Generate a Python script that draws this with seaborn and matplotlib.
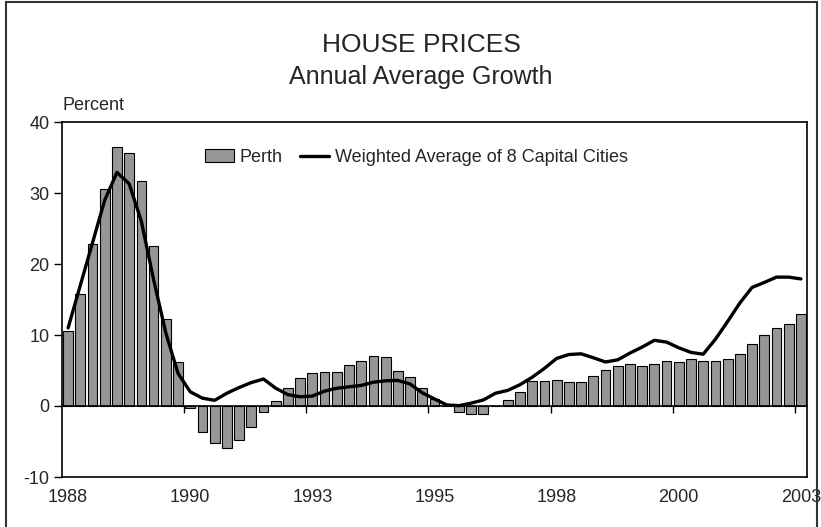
import numpy as np
import pandas as pd
import matplotlib
matplotlib.use('Agg')
import matplotlib.pyplot as plt
from matplotlib.patches import Rectangle
import seaborn as sns

# Quarterly data, 1988Q1 to 2003Q1
quarters = [f'{y}Q{q}' for y in range(1988, 2004) for q in range(1, 5)][:61]

perth = [10.5, 15.8, 22.8, 30.6, 36.5, 35.6, 31.7, 22.5, 12.3, 6.2,
         -0.3, -3.7, -5.2, -5.9, -4.8, -3.0, -0.9, 0.7, 2.6, 3.9,
         4.6, 4.8, 4.8, 5.8, 6.3, 7.1, 6.9, 5.0, 4.1, 2.5,
         1.0, 0.0, -0.8, -1.1, -1.1, 0.0, 0.9, 2.0, 3.5, 3.5,
         3.6, 3.35, 3.35, 4.2, 5.05, 5.6, 5.9, 5.6, 5.9, 6.3,
         6.2, 6.65, 6.3, 6.3, 6.65, 7.35, 8.7, 10.0, 11.05, 11.6,
         13.0]

capitals = [11.0, 17.0, 23.0, 29.0, 32.9, 31.3, 26.0, 17.8, 10.3, 4.6,
            2.0, 1.1, 0.8, 1.8, 2.6, 3.3, 3.8, 2.5, 1.6, 1.3,
            1.4, 2.1, 2.5, 2.7, 2.9, 3.35, 3.55, 3.6, 3.1, 1.85,
            1.0, 0.15, 0.05, 0.4, 0.85, 1.8, 2.2, 3.0, 4.05, 5.3,
            6.7, 7.25, 7.35, 6.8, 6.2, 6.5, 7.45, 8.3, 9.25, 9.0,
            8.2, 7.55, 7.3, 9.4, 11.9, 14.5, 16.7, 17.4, 18.15, 18.15,
            17.9]

tick_labels = ['1988', '1990', '1993', '1995', '1998', '2000', '2003']

df = pd.DataFrame({'quarter': quarters, 'perth': perth, 'capitals': capitals})
df['pos'] = np.arange(len(df))

sns.set_style('white')
plt.rcParams['font.family'] = ['Liberation Sans', 'DejaVu Sans']
plt.rcParams['axes.unicode_minus'] = False

fig = plt.figure(figsize=(8.21, 5.27), dpi=100)
ax = fig.add_axes([62 / 821, 50 / 527, 745 / 821, 355 / 527])

sns.barplot(data=df, x='quarter', y='perth', color='#969696', saturation=1,
            edgecolor='black', linewidth=0.8, width=0.8, label='Perth', ax=ax)
sns.lineplot(data=df, x='pos', y='capitals', color='black', linewidth=2.4,
             label='Weighted Average of 8 Capital Cities', ax=ax)

ax.set_xlim(-0.5, len(df) - 0.5)
ax.set_ylim(-10, 40)
ax.set_yticks(np.arange(-10, 41, 10))
ax.set_xlabel('')
ax.set_ylabel('')

for s in ax.spines.values():
    s.set_color('black')
    s.set_linewidth(1.2)

# category axis crosses at zero, tick marks between every 10 quarters
ax.spines['bottom'].set_position(('data', 0))
ax.set_xticks(np.arange(9.5, len(df), 10))
ax.tick_params(axis='x', bottom=True, length=5, width=1, direction='out',
               labelbottom=False, color='black')
ax.tick_params(axis='y', left=True, length=6, width=1, direction='out',
               labelsize=13, pad=3, color='black')

# labels sit at the bottom of the plot area
sec = ax.secondary_xaxis('bottom')
sec.set_xticks(np.arange(0, len(df), 10), tick_labels)
sec.tick_params(length=0, labelsize=13, pad=9)
sec.spines['bottom'].set_color('black')
sec.spines['bottom'].set_linewidth(1.2)

handles, labels = ax.get_legend_handles_labels()
order = [labels.index('Perth'), labels.index('Weighted Average of 8 Capital Cities')]
ax.legend([handles[i] for i in order], [labels[i] for i in order],
          loc='center left', bbox_to_anchor=(0.17, 0.9),
          ncol=2, frameon=False, fontsize=13, handlelength=1.6,
          handletextpad=0.3, columnspacing=1.0)

fig.text(62 / 821, 1 - 105 / 527, 'Percent', fontsize=13, va='center', ha='left')
fig.text(421 / 821, 1 - 45 / 527, 'HOUSE PRICES', fontsize=19, ha='center', va='center')
fig.text(421 / 821, 1 - 77 / 527, 'Annual Average Growth', fontsize=18, ha='center', va='center')

fig.add_artist(Rectangle((6 / 821, -0.05), 811 / 821, 1.05 - 2 / 527,
                         transform=fig.transFigure, fill=False,
                         edgecolor='#333333', linewidth=1.5))

fig.savefig('out.png', dpi=100)
